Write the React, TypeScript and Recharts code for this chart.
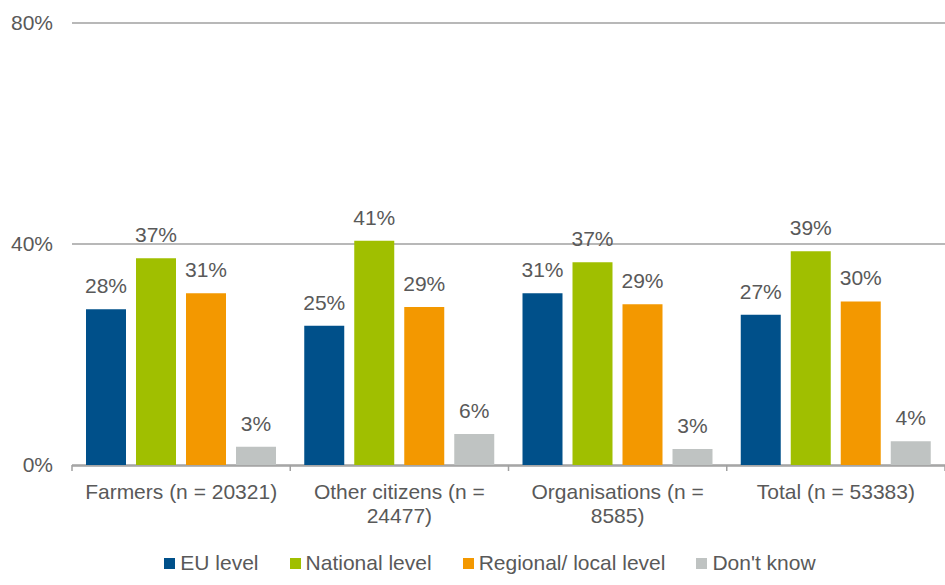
import React from 'react';
import { BarChart, Bar, XAxis, YAxis, CartesianGrid, Legend, LabelList } from 'recharts';

const categories = ['Farmers (n = 20321)', 'Other citizens (n = 24477)', 'Organisations (n = 8585)', 'Total (n = 53383)'];
const euLevel = [28.2, 25.2, 31.1, 27.2];
const nationalLevel = [37.4, 40.6, 36.7, 38.7];
const regionalLevel = [31.1, 28.6, 29.1, 29.6];
const dontKnow = [3.3, 5.6, 2.9, 4.3];
const yTicks = [0, 40, 80];

const series = [
  { key: 'eu', name: 'EU level', values: euLevel, color: '#00508a' },
  { key: 'national', name: 'National level', values: nationalLevel, color: '#a0bf00' },
  { key: 'regional', name: 'Regional/ local level', values: regionalLevel, color: '#f39800' },
  { key: 'dk', name: "Don't know", values: dontKnow, color: '#bfc3c2' },
];

const data = categories.map((name, i) => {
  const row: any = { name, pos: i };
  series.forEach(s => { row[s.key] = s.values[i]; });
  return row;
});

const boundaryTicks = [...categories.map((_, i) => i), categories.length];

const TEXT = '#595959';
const LINE = '#a0a0a0';
const FONT = '"Liberation Sans", Arial, sans-serif';

// wrap a label into lines no wider than maxWidth, measured with a canvas
let ctx: CanvasRenderingContext2D | null = null;
const wrap = (label: string, maxWidth: number) => {
  if (!ctx) {
    ctx = document.createElement('canvas').getContext('2d');
  }
  ctx!.font = `21px ${FONT}`;
  const words = label.split(' ');
  const lines: string[] = [];
  let cur = '';
  words.forEach(w => {
    const next = cur ? `${cur} ${w}` : w;
    if (cur && ctx!.measureText(next).width > maxWidth) {
      lines.push(cur);
      cur = w;
    } else {
      cur = next;
    }
  });
  if (cur) lines.push(cur);
  return lines;
};

const CategoryTick = (props: any) => {
  const { x, y, payload } = props;
  const lines = wrap(String(payload.value), 210);
  return (
    <text x={x} y={y} textAnchor="middle" fill={TEXT} fontSize={21} fontFamily={FONT}>
      {lines.map((l, i) => (
        <tspan key={i} x={x} dy={i === 0 ? 15 : 24}>{l}</tspan>
      ))}
    </text>
  );
};

const LegendContent = () => (
  <div style={{ display: 'flex', justifyContent: 'center', alignItems: 'center', height: 30, paddingLeft: 35 }}>
    {series.map((s, i) => (
      <div key={s.key} style={{ display: 'flex', alignItems: 'center', marginRight: i < series.length - 1 ? 31 : 0 }}>
        <span style={{ width: 11, height: 11, background: s.color, display: 'inline-block', marginRight: 5 }} />
        <span style={{ fontSize: 21, color: TEXT, fontFamily: FONT }}>{s.name}</span>
      </div>
    ))}
  </div>
);

export default function App() {
  return (
    <div style={{ position: 'absolute', left: 0, top: 0, width: 945, height: 585, background: '#fff', fontFamily: FONT }}>
      <BarChart
        width={945}
        height={585}
        data={data}
        margin={{ top: 23, right: 0, bottom: 7, left: 0 }}
        barSize={40}
        barGap={10}
      >
        <CartesianGrid vertical={false} stroke={LINE} strokeWidth={1.5} />
        <XAxis
          xAxisId="bounds"
          dataKey="pos"
          type="number"
          domain={[0, categories.length]}
          ticks={boundaryTicks}
          height={1}
          axisLine={false}
          tick={() => null}
          tickSize={6}
          tickLine={{ stroke: LINE, strokeWidth: 1.5 }}
        />
        <XAxis
          xAxisId="cat"
          dataKey="name"
          height={82}
          interval={0}
          tickSize={0}
          tickMargin={18}
          axisLine={{ stroke: LINE, strokeWidth: 1.5 }}
          tickLine={false}
          tick={<CategoryTick />}
        />
        <YAxis
          domain={[0, 80]}
          ticks={yTicks}
          width={72}
          axisLine={false}
          tickLine={false}
          tickSize={0}
          tickMargin={19}
          tickFormatter={(v: number) => `${v}%`}
          tick={{ fill: TEXT, fontSize: 21 }}
        />
        <Legend verticalAlign="bottom" content={<LegendContent />} />
        {series.map(s => (
          <Bar key={s.key} xAxisId="cat" dataKey={s.key} name={s.name} fill={s.color} isAnimationActive={false}>
            <LabelList
              dataKey={s.key}
              position="top"
              offset={16}
              fill={TEXT}
              fontSize={21}
              formatter={(v: any) => `${Math.round(v)}%`}
            />
          </Bar>
        ))}
      </BarChart>
    </div>
  );
}
